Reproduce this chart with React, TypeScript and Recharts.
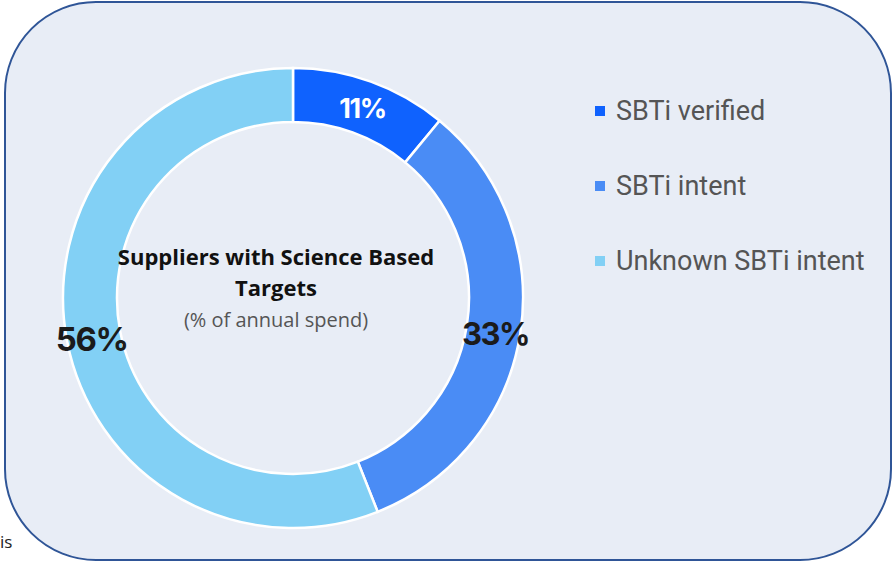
import { PieChart, Pie, Cell, Legend, Label } from 'recharts';

const categories = ['SBTi verified', 'SBTi intent', 'Unknown SBTi intent'];
const shares = [11, 33, 56];
const colors = ['#0F62FE', '#4A8CF5', '#82D0F5'];

const data = categories.map((name, i) => ({ name, value: shares[i] }));

const CX = 293;
const CY = 298;
const RADIAN = Math.PI / 180;

function renderSliceLabel(props: any) {
  const { cx, cy, midAngle, innerRadius, outerRadius, value, index } = props;
  const r = (innerRadius + outerRadius) / 2 + 2;
  const x = cx + r * Math.cos(-midAngle * RADIAN);
  const y = cy + r * Math.sin(-midAngle * RADIAN) + 3;
  const first = index === 0;
  return (
    <text
      x={x}
      y={y}
      fill={first ? '#ffffff' : '#1b1b1b'}
      textAnchor="middle"
      dominantBaseline="central"
      fontFamily="Inter, 'Open Sans', sans-serif"
      fontWeight={700}
      fontSize={first ? 27 : index === 2 ? 33 : 31}
      letterSpacing={-1.5}
    >
      {value}%
    </text>
  );
}

function CenterTitle() {
  const x = CX - 17;
  return (
    <text textAnchor="middle" fontFamily="'Open Sans', Lato, sans-serif">
      <tspan x={x} y={CY - 33} style={{ fontSize: 22, fontWeight: 700 }} fill="#111">
        Suppliers with Science Based
      </tspan>
      <tspan x={x} y={CY - 2} style={{ fontSize: 22, fontWeight: 700 }} fill="#111">
        Targets
      </tspan>
      <tspan x={x} y={CY + 29} style={{ fontSize: 20 }} fill="#555">
        (% of annual spend)
      </tspan>
    </text>
  );
}

function LegendList() {
  return (
    <div style={{ fontFamily: 'Roboto, Inter, sans-serif' }}>
      {data.map((d, i) => (
        <div
          key={d.name}
          style={{ display: 'flex', alignItems: 'center', height: 75, color: '#555', fontSize: 27 }}
        >
          <span
            style={{ width: 10, height: 10, background: colors[i], marginRight: 11, display: 'inline-block' }}
          />
          {d.name}
        </div>
      ))}
    </div>
  );
}

export default function App() {
  return (
    <div style={{ position: 'absolute', left: 0, top: 0, width: 895, height: 564, background: '#fff' }}>
      <div
        style={{
          position: 'absolute',
          left: 4,
          top: 1,
          width: 884,
          height: 556,
          border: '2.5px solid #2F5597',
          borderRadius: 92,
          background: '#E8EDF6',
        }}
      />
      <div
        style={{
          position: 'absolute',
          left: 0,
          top: 530,
          fontFamily: "'Open Sans', sans-serif",
          fontSize: 17,
          color: '#222',
        }}
      >
        is
      </div>
      <div style={{ position: 'absolute', left: 0, top: 0 }}>
        <PieChart width={895} height={564} margin={{ top: 0, right: 0, bottom: 0, left: 0 }}>
          <Pie
            data={data}
            dataKey="value"
            nameKey="name"
            cx={CX}
            cy={CY}
            innerRadius={176}
            outerRadius={230}
            startAngle={90}
            endAngle={-270}
            stroke="#ffffff"
            strokeWidth={2.5}
            label={renderSliceLabel}
            labelLine={false}
            isAnimationActive={false}
          >
            {data.map((d, i) => (
              <Cell key={d.name} fill={colors[i]} />
            ))}
            <Label position="center" content={CenterTitle} />
          </Pie>
          <Legend
            layout="vertical"
            verticalAlign="top"
            align="right"
            content={LegendList}
            wrapperStyle={{ position: 'absolute', left: 595, top: 73, width: 295 }}
          />
        </PieChart>
      </div>
    </div>
  );
}
